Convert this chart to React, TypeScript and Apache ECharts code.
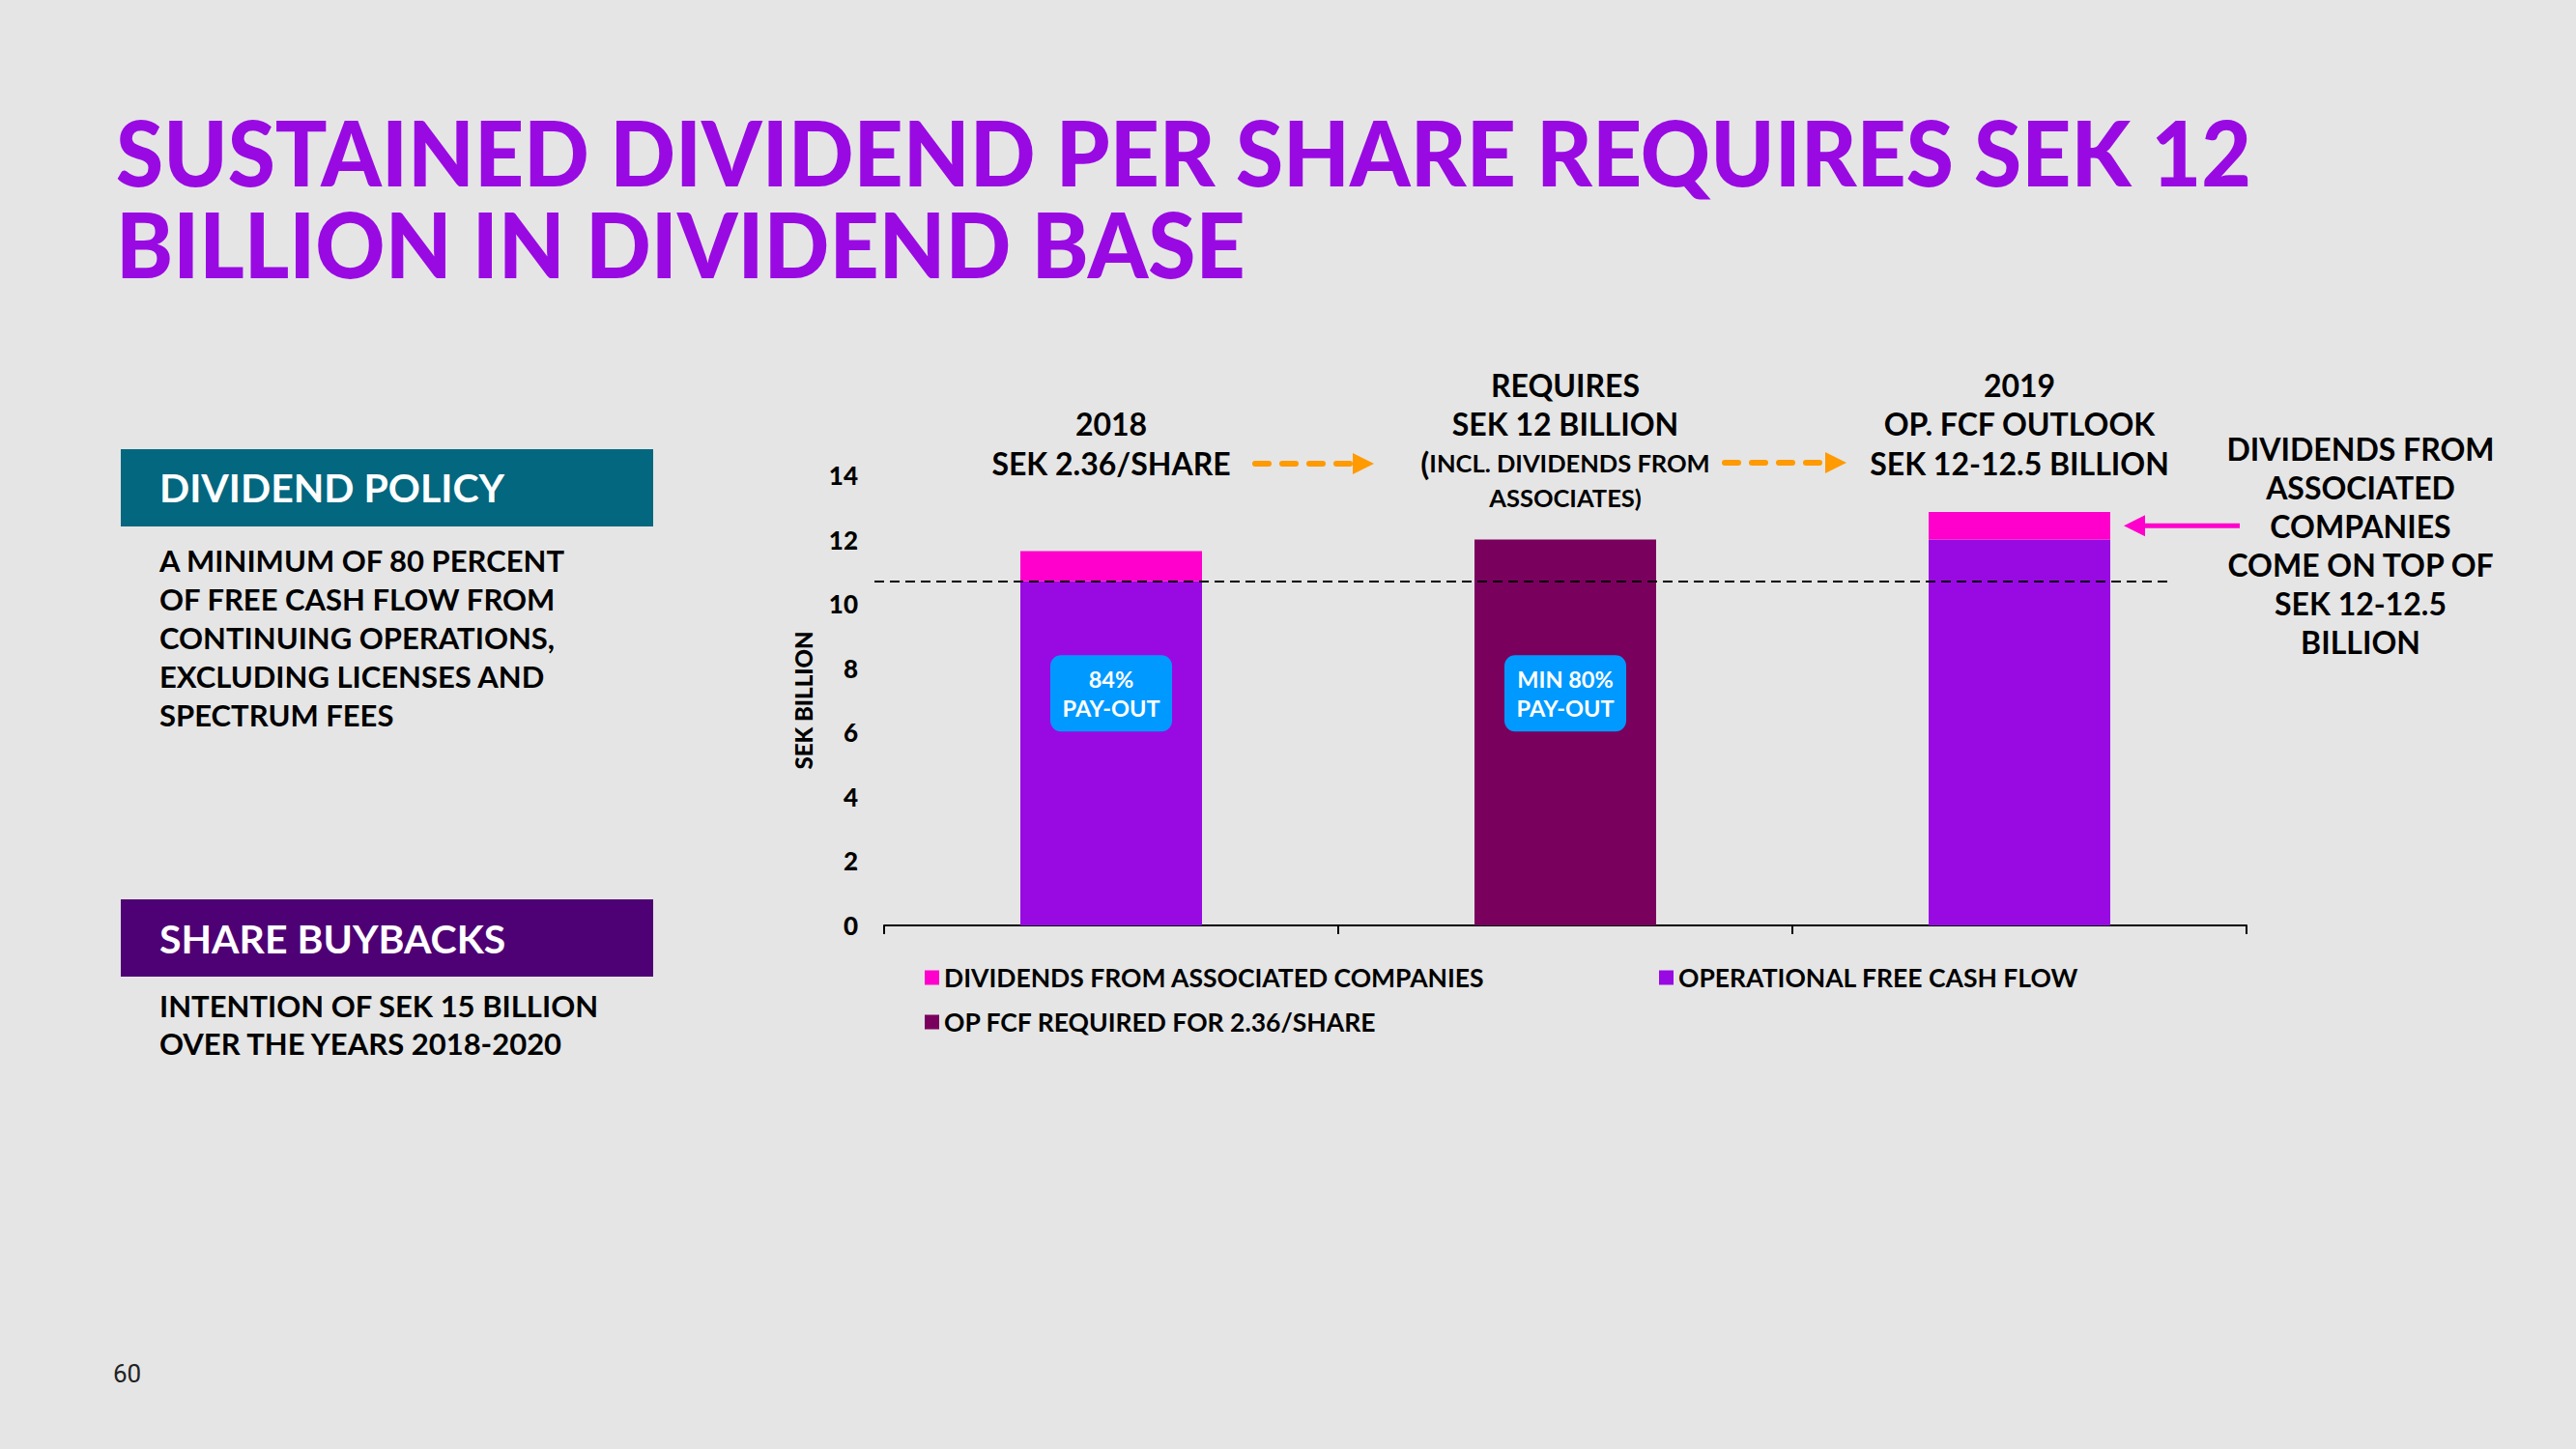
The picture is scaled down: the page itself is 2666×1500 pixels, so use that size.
import React, { useEffect, useRef } from "react";
import * as echarts from "echarts";

// ---------------- data ----------------
const categories = ["2018", "REQUIRED", "2019 OUTLOOK"];
const operationalFcf = [10.7, null, 12.0];
const requiredFcf = [null, 12.0, null];
const associatesDividends = [0.94, null, 0.86];
const payoutThreshold = [10.7];
const yMin = 0;
const yMax = 14;
const yStep = 2;

const SERIES_ASSOC = "DIVIDENDS FROM ASSOCIATED COMPANIES";
const SERIES_OPFCF = "OPERATIONAL FREE CASH FLOW";
const SERIES_REQ = "OP FCF REQUIRED FOR 2.36/SHARE";

const titleLines = ["SUSTAINED DIVIDEND PER SHARE REQUIRES SEK 12", "BILLION IN DIVIDEND BASE"];
const headerNotes = [
  ["", "2018", "SEK 2.36/SHARE"],
  ["REQUIRES", "SEK 12 BILLION", "(INCL. DIVIDENDS FROM", "ASSOCIATES)"],
  ["2019", "OP. FCF OUTLOOK", "SEK 12-12.5 BILLION"],
];
const payoutNotes = ["84%\nPAY-OUT", "MIN 80%\nPAY-OUT", ""];
const policyHeading = "DIVIDEND POLICY";
const policyLines = [
  "A MINIMUM OF 80 PERCENT",
  "OF FREE CASH FLOW FROM",
  "CONTINUING OPERATIONS,",
  "EXCLUDING LICENSES AND",
  "SPECTRUM FEES",
];
const buybackHeading = "SHARE BUYBACKS";
const buybackLines = ["INTENTION OF SEK 15 BILLION", "OVER THE YEARS 2018-2020"];
const sideNoteLines = ["DIVIDENDS FROM", "ASSOCIATED", "COMPANIES", "COME ON TOP OF", "SEK 12-12.5", "BILLION"];
const pageNumber = "60";

// ---------------- style ----------------
const FONT = "Lato, 'Open Sans', sans-serif";
const C_PURPLE = "#990AE3";
const C_PINK = "#FF00CC";
const C_MAROON = "#7A005E";
const C_BLUE = "#0099FF";
const C_ORANGE = "#FF9A00";
const C_TEAL = "#02677F";
const C_DARKPURPLE = "#4E0174";
const BG = "#e5e5e5";

function textWidth(text: string, font: string): number {
  const ctx = document.createElement("canvas").getContext("2d");
  if (!ctx) return 0;
  ctx.font = font;
  return ctx.measureText(text).width;
}

function txt(x: number, y: number, text: string, o: any = {}) {
  return {
    type: "text",
    x,
    y,
    z: o.z ?? 50,
    silent: true,
    scaleX: o.sx ?? 1,
    style: {
      text,
      fill: o.fill ?? "#000",
      fontFamily: o.family ?? FONT,
      fontWeight: o.weight ?? "bold",
      fontSize: o.size ?? 30,
      align: o.align ?? "left",
      verticalAlign: "middle",
      lineHeight: o.lh,
      rich: o.rich,
    },
  };
}

export default function App() {
  const ref = useRef<HTMLDivElement>(null);

  useEffect(() => {
    if (!ref.current) return;
    const chart = echarts.init(ref.current, null, { renderer: "svg" });

    const legendCommon = {
      orient: "horizontal",
      icon: "rect",
      itemWidth: 15,
      itemHeight: 15,
      padding: 0,
      selectedMode: false,
      textStyle: { fontFamily: FONT, fontWeight: "bold", fontSize: 26.5, color: "#000", lineHeight: 30 },
    };

    chart.setOption({
      animation: false,
      backgroundColor: BG,
      grid: { left: 915, right: 341, top: 492, bottom: 542, containLabel: false },
      legend: [
        { ...legendCommon, data: [SERIES_ASSOC], left: 957, top: 997 },
        { ...legendCommon, data: [SERIES_OPFCF], left: 1717, top: 997 },
        { ...legendCommon, data: [SERIES_REQ], left: 957, top: 1043 },
      ],
      xAxis: {
        type: "category",
        data: categories,
        boundaryGap: true,
        axisLine: { show: true, lineStyle: { color: "#000", width: 2 } },
        axisTick: { show: true, length: 9, lineStyle: { color: "#000", width: 2 } },
        axisLabel: { show: false },
        splitLine: { show: false },
      },
      yAxis: {
        type: "value",
        min: yMin,
        max: yMax,
        interval: yStep,
        axisLine: { show: false },
        axisTick: { show: false },
        splitLine: { show: false },
        axisLabel: { fontFamily: FONT, fontWeight: 900, fontSize: 26, color: "#000", margin: 27 },
        name: "SEK BILLION",
        nameLocation: "middle",
        nameRotate: 90,
        nameGap: 72,
        nameTextStyle: { fontFamily: FONT, fontWeight: 900, fontSize: 24, color: "#000" },
      },
      series: [
        {
          name: SERIES_OPFCF,
          type: "bar",
          stack: "fcf",
          barWidth: "40%",
          data: operationalFcf,
          itemStyle: { color: C_PURPLE },
          markLine: {
            silent: true,
            symbol: "none",
            label: { show: false },
            lineStyle: { type: [10, 6], color: "#000", width: 2 },
            data: [
              [
                { coord: [0, payoutThreshold[0]], x: 905 },
                { coord: [2, payoutThreshold[0]], x: 2244 },
              ],
            ],
          },
        },
        {
          name: SERIES_REQ,
          type: "bar",
          stack: "fcf",
          barWidth: "40%",
          data: requiredFcf,
          itemStyle: { color: C_MAROON },
        },
        {
          name: SERIES_ASSOC,
          type: "bar",
          stack: "fcf",
          barWidth: "40%",
          data: associatesDividends,
          itemStyle: { color: C_PINK },
        },
      ],
    });

    const cx = categories.map((_, i) => chart.convertToPixel({ xAxisIndex: 0 }, i) as number);
    const py = (v: number) => chart.convertToPixel({ yAxisIndex: 0 }, v) as number;

    const g: any[] = [];

    // Title
    const titleFont = `900 93px Lato`;
    const tw = textWidth(titleLines[0], titleFont);
    const tsx = tw > 0 ? Math.min(1, 2210 / tw) : 0.9;
    g.push(txt(120, 157, titleLines[0], { size: 93, weight: 900, fill: C_PURPLE, sx: tsx }));
    g.push(txt(120, 252, titleLines[1], { size: 93, weight: 900, fill: C_PURPLE, sx: tsx }));

    // Left panel
    g.push({ type: "rect", shape: { x: 125, y: 465, width: 551, height: 80 }, style: { fill: C_TEAL }, silent: true });
    g.push(txt(165, 504, policyHeading, { size: 41, fill: "#fff" }));
    g.push(txt(165, 660, policyLines.join("\n"), { size: 31, lh: 40 }));
    g.push({ type: "rect", shape: { x: 125, y: 931, width: 551, height: 80 }, style: { fill: C_DARKPURPLE }, silent: true });
    g.push(txt(165, 971, buybackHeading, { size: 41, fill: "#fff" }));
    g.push(txt(165, 1060, buybackLines.join("\n"), { size: 31, lh: 39 }));

    // Header notes above the bars
    const rowY = [398, 438, 479, 515];
    headerNotes.forEach((lines, ci) => {
      lines.forEach((line, ri) => {
        if (!line) return;
        const y = rowY[ri];
        if (ci === 1 && ri === 2) {
          g.push(
            txt(cx[ci], y, "{p|(}{s|INCL. DIVIDENDS FROM}", {
              align: "center",
              rich: {
                p: { fontFamily: FONT, fontWeight: "bold", fontSize: 33, fill: "#000" },
                s: { fontFamily: FONT, fontWeight: "bold", fontSize: 25.5, fill: "#000" },
              },
            })
          );
        } else if (ci === 1 && ri === 3) {
          g.push(txt(cx[ci], y, line, { size: 25.5, align: "center" }));
        } else {
          g.push(txt(cx[ci], y, line, { size: 32, align: "center" }));
        }
      });
    });

    // Orange dashed arrows
    const orangeArrow = (x1: number, x2: number, y: number) => {
      g.push({
        type: "line",
        silent: true,
        shape: { x1, y1: y, x2: x2 - 22, y2: y },
        style: { stroke: C_ORANGE, lineWidth: 6, lineDash: [14, 14], lineCap: "round" },
      });
      g.push({
        type: "polygon",
        silent: true,
        shape: { points: [[x2 - 22, y - 11], [x2, y], [x2 - 22, y + 11]] },
        style: { fill: C_ORANGE },
      });
    };
    orangeArrow(1299, 1422, 480);
    orangeArrow(1785, 1911, 479);

    // Pay-out boxes
    payoutNotes.forEach((note, i) => {
      if (!note) return;
      const yc = py(7.2);
      g.push({
        type: "rect",
        z: 60,
        silent: true,
        shape: { x: cx[i] - 63, y: yc - 40, width: 126, height: 79, r: 11 },
        style: { fill: C_BLUE },
      });
      g.push(txt(cx[i], yc, note, { size: 23.5, lh: 30, fill: "#fff", align: "center", z: 61 }));
    });

    // Pink arrow to the 2019 associates segment
    const ay = py((operationalFcf[2] as number) + (associatesDividends[2] as number) / 2);
    g.push({
      type: "line",
      silent: true,
      shape: { x1: 2318, y1: ay, x2: 2216, y2: ay },
      style: { stroke: C_PINK, lineWidth: 5 },
    });
    g.push({
      type: "polygon",
      silent: true,
      shape: { points: [[2220, ay - 11], [2198, ay], [2220, ay + 11]] },
      style: { fill: C_PINK },
    });

    // Side note
    g.push(txt(2443, 564, sideNoteLines.join("\n"), { size: 32, lh: 40, align: "center" }));

    // Page number
    g.push(txt(117, 1422, pageNumber, { size: 26, weight: "normal", family: "Roboto, sans-serif", fill: "#222" }));

    chart.setOption({ graphic: { elements: g } });

    return () => chart.dispose();
  }, []);

  return (
    <div
      ref={ref}
      style={{ position: "absolute", left: 0, top: 0, width: 2666, height: 1500, background: BG }}
    />
  );
}
